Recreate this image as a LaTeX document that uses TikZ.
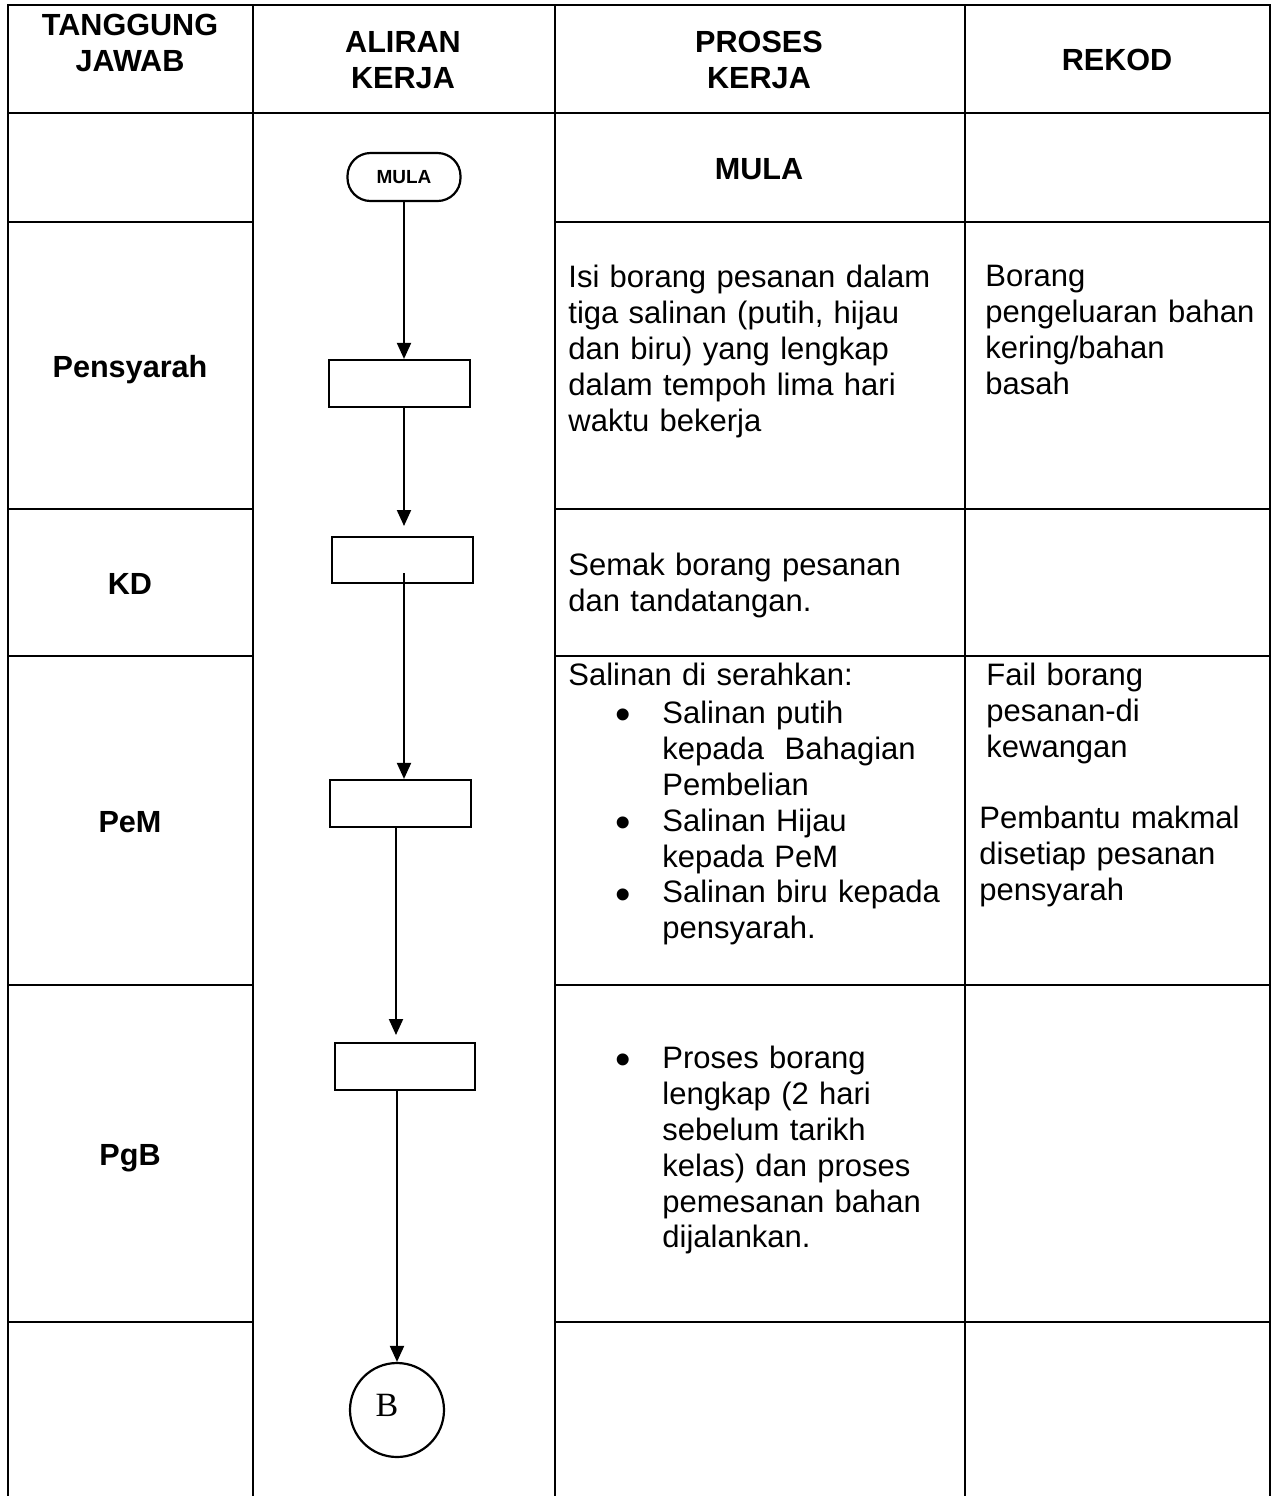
\documentclass[tikz,border=0pt]{standalone}
\usepackage{fontspec}
\setmainfont{Liberation Sans}
\newfontfamily\serifB{Liberation Serif}
\usetikzlibrary{arrows.meta}
\begin{document}
\begin{tikzpicture}[x=0.5pt,y=-0.5pt,
  grid/.style={line width=1pt},
  hdr/.style={font=\fontsize{15.3}{17.9}\selectfont\bfseries, align=center, inner sep=0},
  role/.style={font=\fontsize{15.3}{17.9}\selectfont\bfseries, anchor=base, inner sep=0},
  body/.style={font=\fontsize{15.5}{17.9}\selectfont, align=left, anchor=north west, inner sep=0, text width=#1},
  body/.default=200pt,
  bul/.style={font=\fontsize{22}{24}\selectfont, anchor=base, inner sep=0},
  flowbox/.style={draw, line width=1.1pt, minimum width=70.5pt, minimum height=23.5pt, inner sep=0},
  arr/.style={line width=1pt, -{Triangle[width=7pt,length=8pt]}},
]
\useasboundingbox (0,0) rectangle (1275,1496);
% grid
\draw[grid] (8,1496) -- (8,5) -- (1270,5) -- (1270,1496);
\draw[grid] (253,5) -- (253,1496);
\draw[grid] (555,5) -- (555,1496);
\draw[grid] (965,5) -- (965,1496);
\draw[grid] (253,113) -- (555,113);
\foreach \yy in {113,222,509,656,985,1322} {
  \draw[grid] (8,\yy) -- (253,\yy);
  \draw[grid] (555,\yy) -- (1270,\yy);
}
% headers
\node[hdr] (h1) at (130,43) {TANGGUNG\\JAWAB};
\node[hdr] (h2) at (403,60) {ALIRAN\\KERJA};
\node[hdr] (h3) at (759,60) {PROSES\\KERJA};
\node[hdr] (h4) at (1117,60) {REKOD};
% roles
\node[role] (r1) at (130,377) {Pensyarah};
\node[role] (r2) at (130,594) {KD};
\node[role] (r3) at (130,832) {PeM};
\node[role] (r4) at (130,1165) {PgB};
\node[role] (pmula) at (759,179) {MULA};
% process texts
\node[body] (p1) at (568,265) {Isi borang pesanan dalam\\tiga salinan (putih, hijau\\dan biru) yang lengkap\\dalam tempoh lima hari\\waktu bekerja};
\node[body] (k1) at (985,265) {Borang\\pengeluaran bahan\\kering/bahan\\basah};
\node[body] (p2) at (568,553) {Semak borang pesanan\\dan tandatangan.};
\node[body] (p3) at (568,663) {Salinan di serahkan:};
\node[body] (p3l) at (662,701) {Salinan putih\\kepada\ \ Bahagian\\Pembelian\\Salinan Hijau\\kepada PeM\\Salinan biru kepada\\pensyarah.};
\node[bul] (b1) at (623,729) {•};
\node[bul] (b2) at (623,837) {•};
\node[bul] (b3) at (623,909) {•};
\node[body] (k3a) at (986,663) {Fail borang\\pesanan-di\\kewangan};
\node[body] (k3b) at (979,806) {Pembantu makmal\\disetiap pesanan\\pensyarah};
\node[body] (p4) at (662,1046) {Proses borang\\lengkap (2 hari\\sebelum tarikh\\kelas) dan proses\\pemesanan bahan\\dijalankan.};
\node[bul] (b4) at (623,1074) {•};
% flow
\node[draw, line width=1.1pt, rounded corners=11.5pt, minimum width=56.5pt, minimum height=24pt, inner sep=0,
      font=\fontsize{9.5}{11}\selectfont\bfseries] (mula) at (404,177) {\raisebox{-1pt}{MULA}};
\node[flowbox] (box1) at (399.5,383.5) {};
\node[flowbox, minimum height=23pt] (box2) at (402.5,560) {};
\node[flowbox] (box3) at (400.5,803.5) {};
\node[flowbox, minimum width=70pt] (box4) at (405,1066.5) {};
\node[draw, circle, line width=1.1pt, minimum size=47pt, inner sep=0,
      label={[font=\serifB\fontsize{17}{19}\selectfont, inner sep=0, xshift=-5pt, yshift=2.5pt]center:B}] (B) at (397,1410) {};
\coordinate (a2) at (404,526);
\coordinate (s2) at (404,573);
\coordinate (t4) at (396,1035);
\draw[arr] (mula.south) -- (mula.south |- box1.north);
\draw[arr] (box1.south -| a2) -- (a2);
\draw[arr] (s2) -- (s2 |- box3.north);
\draw[arr] (box3.south -| t4) -- (t4);
\draw[arr] (box4.south -| B) -- (B.north);
\end{tikzpicture}
\end{document}
